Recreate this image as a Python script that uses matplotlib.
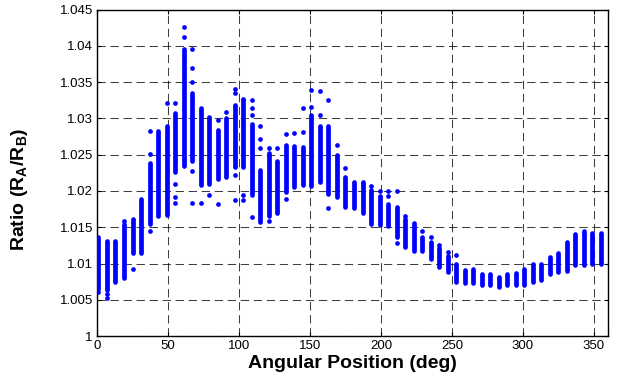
import matplotlib
matplotlib.use("Agg")
import matplotlib.pyplot as plt

plt.rcParams["font.family"] = ["Liberation Sans", "DejaVu Sans"]
plt.rcParams["mathtext.fontset"] = "custom"
plt.rcParams["mathtext.rm"] = "Liberation Sans"
plt.rcParams["mathtext.bf"] = "Liberation Sans:bold"

# angular positions of the measurement columns (deg)
angles = [1, 7, 13, 19, 25, 31, 37, 43, 49, 55,
          61, 67, 73, 79, 85, 91, 97, 103, 109, 115,
          121, 127, 133, 139, 145, 151, 157, 163, 169, 175,
          181, 187, 193, 199, 205, 211, 217, 223, 229, 235,
          241, 247, 253, 259, 265, 271, 277, 283, 289, 295,
          301, 307, 313, 319, 325, 331, 337, 343, 349, 355]

# dense part of each column: lowest and highest ratio
ratio_low = [1.0065, 1.0063, 1.0075, 1.0080, 1.0114, 1.0114, 1.0155, 1.0165, 1.0167, 1.0226,
             1.0235, 1.0242, 1.0208, 1.0210, 1.0217, 1.0219, 1.0233, 1.0233, 1.0194, 1.0157,
             1.0166, 1.0169, 1.0199, 1.0206, 1.0208, 1.0207, 1.0212, 1.0196, 1.0192, 1.0178,
             1.0176, 1.0170, 1.0155, 1.0153, 1.0152, 1.0137, 1.0123, 1.0118, 1.0118, 1.0106,
             1.0095, 1.0088, 1.0075, 1.0073, 1.0073, 1.0071, 1.0071, 1.0068, 1.0071, 1.0070,
             1.0070, 1.0075, 1.0078, 1.0086, 1.0088, 1.0090, 1.0098, 1.0098, 1.0100, 1.0100]
ratio_high = [1.0137, 1.0131, 1.0131, 1.0155, 1.0161, 1.0189, 1.0238, 1.0282, 1.0289, 1.0307,
              1.0395, 1.0335, 1.0315, 1.0302, 1.0284, 1.0300, 1.0318, 1.0325, 1.0293, 1.0229,
              1.0252, 1.0242, 1.0263, 1.0262, 1.0261, 1.0305, 1.0289, 1.0289, 1.0249, 1.0219,
              1.0213, 1.0212, 1.0201, 1.0193, 1.0182, 1.0178, 1.0162, 1.0156, 1.0137, 1.0130,
              1.0121, 1.0107, 1.0100, 1.0091, 1.0092, 1.0086, 1.0086, 1.0082, 1.0086, 1.0087,
              1.0092, 1.0099, 1.0099, 1.0109, 1.0114, 1.0130, 1.0141, 1.0145, 1.0142, 1.0142]

# isolated points outside the dense part
outlier_angle = [1, 7, 7, 19, 25, 37, 37, 37, 49, 55, 55, 55, 55,
                 61, 61, 67, 67, 67, 67, 67, 73, 79, 85, 85, 91,
                 97, 97, 97, 97, 103, 103, 103, 109, 109, 109, 109,
                 115, 115, 115, 121, 121, 127, 133, 133, 139, 145, 145,
                 151, 151, 157, 157, 163, 163, 169, 175, 193, 199, 205, 205,
                 211, 211, 217, 229, 235, 241, 247, 247, 253]
outlier_ratio = [1.0061, 1.0058, 1.0053, 1.0158, 1.0092, 1.0282, 1.0251, 1.0145, 1.0321,
                 1.0321, 1.0210, 1.0192, 1.0183,
                 1.0426, 1.0412, 1.0395, 1.0369, 1.0350, 1.0228, 1.0183, 1.0183, 1.0195,
                 1.0298, 1.0182, 1.0309,
                 1.0341, 1.0335, 1.0222, 1.0188, 1.0327, 1.0195, 1.0188,
                 1.0325, 1.0314, 1.0305, 1.0164,
                 1.0290, 1.0272, 1.0259, 1.0259, 1.0159, 1.0259, 1.0279, 1.0189, 1.0280,
                 1.0314, 1.0281,
                 1.0339, 1.0316, 1.0338, 1.0305, 1.0326, 1.0176, 1.0264, 1.0232,
                 1.0207, 1.0200, 1.0200, 1.0193,
                 1.0200, 1.0128, 1.0165, 1.0145, 1.0137, 1.0125, 1.0116, 1.0110, 1.0112]

fig = plt.figure(figsize=(6.18, 3.82), dpi=100)
ax = fig.add_axes([0.157, 0.120, 0.827, 0.855])

blue = (0, 0, 1)
ax.vlines(angles, ratio_low, ratio_high, colors=blue, linewidth=3.4, capstyle="round", zorder=3)
ax.plot(outlier_angle, outlier_ratio, "o", color=blue, markersize=3.4, markeredgewidth=0, zorder=3)

ax.set_xlim(0, 360)
ax.set_ylim(1.0, 1.045)
ax.set_xticks(range(0, 360, 50))
yt = [1 + 0.005 * i for i in range(10)]
ax.set_yticks(yt)
ax.set_yticklabels(["1", "1.005", "1.01", "1.015", "1.02", "1.025", "1.03", "1.035", "1.04", "1.045"])

ax.grid(True, color="black", linestyle=(0, (8, 4.5)), linewidth=0.75, alpha=0.75)
ax.tick_params(direction="in", top=True, right=True, labelsize=9.5, length=3, width=0.8, pad=3)
for s in ax.spines.values():
    s.set_linewidth(1.0)

ax.set_xlabel("Angular Position (deg)", fontsize=14, fontweight="bold", labelpad=2)
ax.set_ylabel(r"Ratio (R$_{\mathbf{A}}$/R$_{\mathbf{B}}$)", fontsize=14, fontweight="bold")
ax.yaxis.set_label_coords(-0.131, 0.45)

fig.savefig("out.png", dpi=100)
